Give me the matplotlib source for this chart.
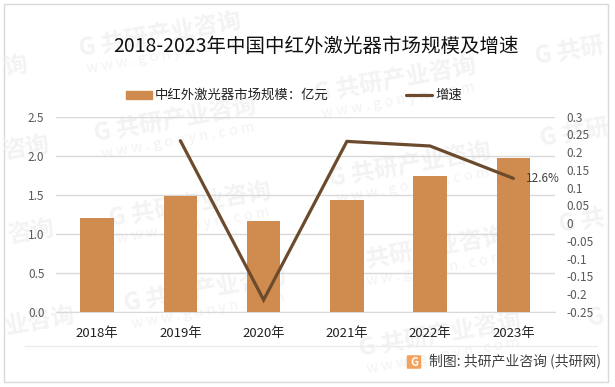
import matplotlib
matplotlib.use('Agg')
from matplotlib import pyplot as plt
from matplotlib.patches import Rectangle, FancyBboxPatch
from matplotlib.lines import Line2D

plt.rcParams['font.family'] = ['Noto Sans CJK SC', 'DejaVu Sans']

W, H = 615, 387

years = ['2018年', '2019年', '2020年', '2021年', '2022年', '2023年']
market_size = [1.20, 1.487, 1.164, 1.43, 1.743, 1.97]
growth_years = ['2019年', '2020年', '2021年', '2022年', '2023年']
growth = [0.232, -0.216, 0.23, 0.217, 0.126]
left_ticks = [0.0, 0.5, 1.0, 1.5, 2.0, 2.5]
right_ticks = [-0.25, -0.2, -0.15, -0.1, -0.05, 0, 0.05, 0.1, 0.15, 0.2, 0.25, 0.3]
right_labels = ['-0.25', '-0.2', '-0.15', '-0.1', '-0.05', '0', '0.05', '0.1', '0.15', '0.2', '0.25', '0.3']

BAR_COLOR = '#d08b4f'
LINE_COLOR = '#6b4a2e'
GRID_COLOR = '#d9d9d9'
TICK_COLOR = '#595959'
MARK_COLOR = '#f3f3f3'

# watermark pieces: text, centre x, centre y (pixels)
full_marks = [(160, 35), (175, 120), (190, 205), (205, 290), (395, 80), (410, 165), (425, 250), (440, 335)]
edge_marks = [('询', 15, 66), ('咨询', 26, 148), ('咨询', 31, 232), ('业咨询', 40, 321),
              ('G 共研', 570, 52), ('G 共研', 575, 134), ('G 共', 582, 222), ('G', 596, 318)]


def fx(x):
    return x / W


def fy(y):
    return 1 - y / H


fig = plt.figure(figsize=(W / 100, H / 100), dpi=100, facecolor='white')

# outer frame
fig.add_artist(Rectangle((fx(4), fy(381.5)), (608 - 4) / W, (381.5 - 4) / H, transform=fig.transFigure,
                         facecolor='white', edgecolor='#d9d9d9', linewidth=1, zorder=0))

for cx, cy in full_marks:
    fig.text(fx(cx), fy(cy), 'G 共研产业咨询', fontsize=17, fontweight='bold', color=MARK_COLOR,
             rotation=10, rotation_mode='anchor', ha='center', va='center', zorder=1)
    fig.text(fx(cx + 3), fy(cy + 21), 'w w w . g o n y n . c o m', fontsize=10.5, color=MARK_COLOR,
             rotation=10, rotation_mode='anchor', ha='center', va='center', zorder=1)
for text, cx, cy in edge_marks:
    fig.text(fx(cx), fy(cy), text, fontsize=17, fontweight='bold', color=MARK_COLOR,
             rotation=10, rotation_mode='anchor', ha='center', va='center', zorder=1)

# axes box taken from the reference pixels
ax = fig.add_axes([fx(55.5), fy(312), (555 - 55.5) / W, (312 - 116.5) / H])
ax.set_zorder(2)
ax.patch.set_alpha(0)
ax.bar(years, market_size, width=0.4, color=BAR_COLOR, zorder=3)
ax.set_xlim(-0.5, 5.5)
ax.set_ylim(0, 2.5)
ax.set_yticks(left_ticks)
ax.set_yticklabels(['%.1f' % v for v in left_ticks])
ax.grid(axis='y', color=GRID_COLOR, linewidth=1, zorder=1)
ax.set_axisbelow(True)
for side in ['top', 'left', 'right']:
    ax.spines[side].set_visible(False)
ax.spines['bottom'].set_color(GRID_COLOR)
ax.tick_params(axis='y', length=0, pad=8, labelsize=8.5, labelcolor=TICK_COLOR)
ax.tick_params(axis='x', length=0, pad=11, labelsize=9.5, labelcolor='#222222')

ax2 = ax.twinx()
ax2.set_zorder(3)
ax2.patch.set_alpha(0)
ax2.plot([years.index(y) for y in growth_years], growth, color=LINE_COLOR, linewidth=2.3,
         solid_capstyle='round', solid_joinstyle='miter', zorder=5)
ax2.set_ylim(-0.25, 0.3)
ax2.set_yticks(right_ticks)
ax2.set_yticklabels(right_labels)
for side in ax2.spines:
    ax2.spines[side].set_visible(False)
ax2.tick_params(axis='y', length=0, pad=8.5, labelsize=8.5, labelcolor=TICK_COLOR)
ax2.annotate('12.6%', (5, growth[-1]), xytext=(9, 0), textcoords='offset points',
             fontsize=8.5, color='#404040', va='center', ha='left')

fig.text(fx(315.5), fy(46), '2018-2023年中国中红外激光器市场规模及增速', fontsize=14, color='#111111',
         ha='center', va='center', zorder=4)

# legend
fig.add_artist(Rectangle((fx(126), fy(99)), 26 / W, 8 / H, transform=fig.transFigure, color=BAR_COLOR, zorder=4))
fig.text(fx(155), fy(95), '中红外激光器市场规模：亿元', fontsize=9.6, color='#222222', ha='left', va='center', zorder=4)
fig.add_artist(Line2D([fx(406), fx(432)], [fy(95), fy(95)], transform=fig.transFigure, color=LINE_COLOR,
                      linewidth=2.3, solid_capstyle='round', zorder=4))
fig.text(fx(435), fy(95), '增速', fontsize=9.6, color='#222222', ha='left', va='center', zorder=4)

# footer
fig.add_artist(Line2D([fx(25), fx(597)], [fy(346), fy(346)], transform=fig.transFigure, color='#ececec',
                      linewidth=1, zorder=4))
fig.add_artist(FancyBboxPatch((fx(408), fy(368)), 12 / W, 12 / H, transform=fig.transFigure,
                              boxstyle='round,pad=0.002', facecolor='#f4a15d', edgecolor='none', zorder=4))
fig.text(fx(414), fy(362), 'G', fontsize=8, fontweight='bold', color='white', ha='center', va='center', zorder=5)
fig.text(fx(429), fy(361), '制图: 共研产业咨询 (共研网)', fontsize=10, fontweight='medium', color='#404040',
         ha='left', va='center', zorder=4)

fig.savefig('out.png', dpi=100)
